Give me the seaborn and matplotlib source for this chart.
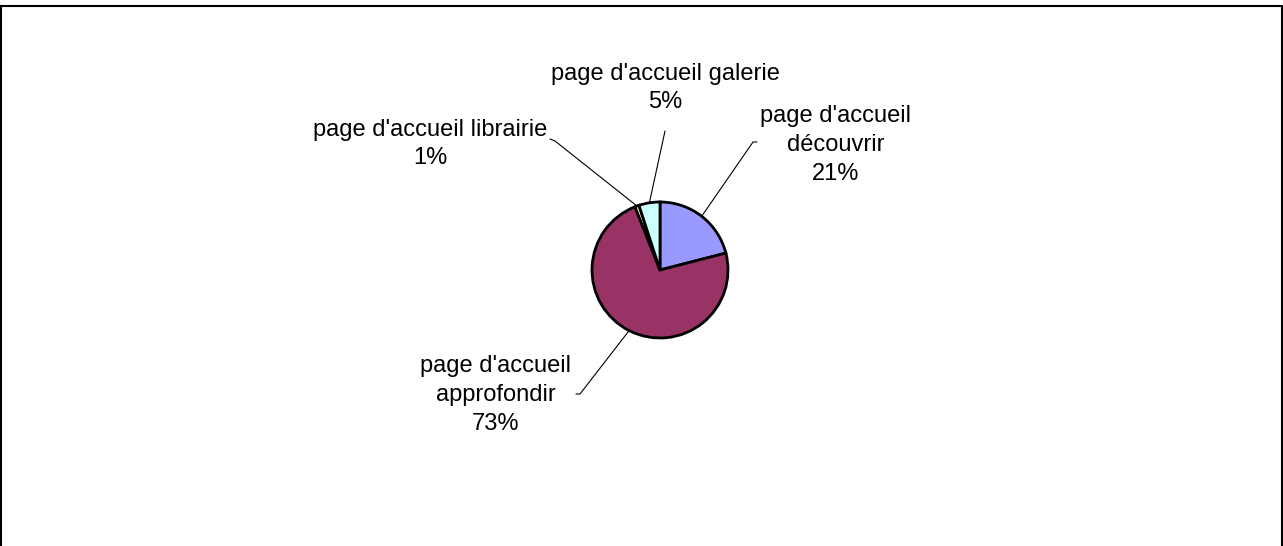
import numpy as np
import matplotlib
matplotlib.use("Agg")
import matplotlib.pyplot as plt
import seaborn as sns
from matplotlib.patches import Rectangle

# Data
labels = ["page d'accueil\ndécouvrir", "page d'accueil\napprofondir",
          "page d'accueil librairie", "page d'accueil galerie"]
values = [21, 73, 1, 5]
colors = ["#9999FF", "#993366", "#FFFFCC", "#CCFFFF"]

sns.set_theme(style="white")
plt.rcParams['font.family'] = ['Liberation Sans', 'DejaVu Sans']

W, H = 1283, 546
cx, cy, R = 660, 270, 68  # pie centre / radius in pixels


def px(x, y):
    return (x - cx) / R, (cy - y) / R


fig = plt.figure(figsize=(W / 100, H / 100), dpi=100)
ax = fig.add_axes([0, 0, 1, 1])
ax.pie(values, colors=colors, startangle=90, counterclock=False, radius=1,
       wedgeprops=dict(edgecolor="black", linewidth=2.0))
ax.set_xlim(-cx / R, (W - cx) / R)
ax.set_ylim(-(H - cy) / R, cy / R)
ax.set_aspect('auto')
ax.axis('off')

# label text positions, elbow and elbow tail (pixels)
text_pos = [(836, 145), (496, 395), (430, 144), (665, 88)]
elbows = [((757, 142), (753, 142)), ((576, 394), (580, 394)),
          ((550, 139), (555, 141)), ((665, 131), (665, 131))]

total = sum(values)
cum = np.cumsum([0] + values)
for i, v in enumerate(values):
    mid = (cum[i] + v / 2) / total * 2 * np.pi
    ex, ey = np.sin(mid), np.cos(mid)
    (x0, y0), (x1, y1) = elbows[i]
    p0 = px(x0, y0)
    p1 = px(x1, y1)
    ax.plot([p0[0], p1[0], ex], [p0[1], p1[1], ey], color="black", lw=0.8)
    tx, ty = px(*text_pos[i])
    ax.text(tx, ty, f"{labels[i]}\n{round(100 * v / total)}%", ha="center",
            va="center", fontsize=17, linespacing=1.4, color="black")

# chart frame
fig.patches.append(Rectangle((1 / W, -0.02), (W - 2) / W, (H - 6) / H + 0.02,
                             transform=fig.transFigure, fill=False,
                             edgecolor="black", linewidth=1.5))

fig.savefig("out.png", dpi=100, facecolor="white")
